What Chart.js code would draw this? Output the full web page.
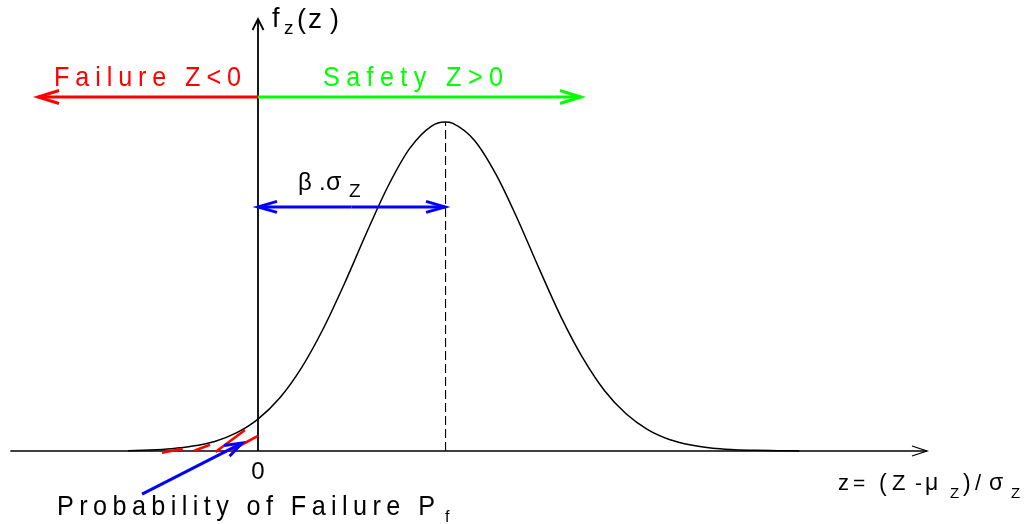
<!DOCTYPE html>
<html>
<head>
<meta charset="utf-8">
<script src="https://cdn.jsdelivr.net/npm/chart.js@4"></script>
<style>
  html, body { margin: 0; padding: 0; background: #fff; }
  #wrap { width: 1032px; height: 524px; position: relative; }
</style>
</head>
<body>
<div id="wrap"><canvas id="myChart"></canvas></div>
<script>
// z in units of sigma_Z, measured from the limit state Z = 0
const zPoints = [-1.5, -1.25, -1, -0.75, -0.5, -0.25, 0, 0.25, 0.5, 0.75, 1, 1.25, 1.5, 1.75, 2, 2.16,
                 2.25, 2.5, 2.75, 3, 3.25, 3.5, 3.75, 4, 4.25, 4.5, 4.75, 5, 5.25, 5.5, 5.75, 6, 6.25];
// f_z(z), scaled so the peak is 1
const density = [0.001, 0.003, 0.007, 0.015, 0.029, 0.055, 0.097, 0.161, 0.252, 0.370, 0.510, 0.661, 0.804, 0.919, 0.987, 1.000,
                 0.996, 0.944, 0.840, 0.703, 0.552, 0.407, 0.283, 0.184, 0.113, 0.065, 0.035, 0.018, 0.008, 0.004, 0.002, 0.001, 0.000];
// reliability index: distance from 0 to the mean
const beta = 2.16;
const zeroTick = ['0'];

const FONT = '"Liberation Sans", Arial, Helvetica, sans-serif';

// hatch strokes under the left tail (data units: x1, y1, x2, y2)
const hatch = [
  [-1.109, -0.005, -0.870, 0.007],
  [-0.736, 0.001, -0.554, 0.019],
  [-0.491, -0.003, -0.150, 0.064],
  [-0.323, 0.000, 0.000, 0.046]
];

function arrow(ctx, x1, y1, x2, y2, color, width, len, half) {
  ctx.save();
  ctx.strokeStyle = color;
  ctx.lineWidth = width;
  ctx.lineCap = 'butt';
  ctx.beginPath();
  ctx.moveTo(x1, y1);
  ctx.lineTo(x2, y2);
  ctx.stroke();
  const a = Math.atan2(y2 - y1, x2 - x1);
  const ux = Math.cos(a), uy = Math.sin(a);
  ctx.beginPath();
  ctx.moveTo(x2 - ux * len - uy * half, y2 - uy * len + ux * half);
  ctx.lineTo(x2, y2);
  ctx.lineTo(x2 - ux * len + uy * half, y2 - uy * len - ux * half);
  ctx.stroke();
  ctx.restore();
}

// letters spread evenly over a given width, slightly condensed
function spaced(ctx, str, x, y, span, size, color) {
  const sx = 0.9;
  ctx.save();
  ctx.font = size + 'px ' + FONT;
  ctx.fillStyle = color;
  ctx.textAlign = 'left';
  ctx.textBaseline = 'alphabetic';
  const chars = [...str];
  const w = chars.map(c => ctx.measureText(c).width * sx);
  const total = w.reduce((s, v) => s + v, 0);
  const gap = (span - total) / (chars.length - 1);
  let cx = x;
  chars.forEach((c, i) => {
    ctx.save();
    ctx.translate(cx, y);
    ctx.scale(sx, 1);
    ctx.fillText(c, 0, 0);
    ctx.restore();
    cx += w[i] + gap;
  });
  ctx.restore();
}

function text(ctx, str, x, y, size, color, align) {
  ctx.save();
  ctx.font = size + 'px ' + FONT;
  ctx.fillStyle = color || '#000';
  ctx.textAlign = align || 'left';
  ctx.textBaseline = 'alphabetic';
  ctx.fillText(str, x, y);
  ctx.restore();
}

const sketch = {
  id: 'sketch',
  beforeDatasetsDraw(chart) {
    const ctx = chart.ctx;
    const X = v => chart.scales.x.getPixelForValue(v);
    const Y = v => chart.scales.y.getPixelForValue(v);

    // axes
    arrow(ctx, X(-2.86), Y(0), X(7.725), Y(0), '#000', 1.3, 15, 5);
    arrow(ctx, X(0), Y(0), X(0), Y(1.313), '#000', 1.8, 11, 5.5);

    // mean line
    ctx.save();
    ctx.strokeStyle = '#000';
    ctx.lineWidth = 1.1;
    ctx.setLineDash([9, 4]);
    ctx.beginPath();
    ctx.moveTo(X(beta) + 0.5, Y(0));
    ctx.lineTo(X(beta) + 0.5, Y(1));
    ctx.stroke();
    ctx.restore();
  },
  afterDatasetsDraw(chart) {
    const ctx = chart.ctx;
    const X = v => chart.scales.x.getPixelForValue(v);
    const Y = v => chart.scales.y.getPixelForValue(v);

    // failure region hatch, over the tail
    ctx.save();
    ctx.strokeStyle = '#ff0000';
    ctx.lineWidth = 2.6;
    hatch.forEach(h => {
      ctx.beginPath();
      ctx.moveTo(X(h[0]), Y(h[1]));
      ctx.lineTo(X(h[2]), Y(h[3]));
      ctx.stroke();
    });
    ctx.restore();

    // failure / safety directions
    arrow(ctx, X(0), Y(1.076), X(-2.54), Y(1.076), '#ff0000', 3, 21, 6.5);
    arrow(ctx, X(0), Y(1.076), X(3.73), Y(1.076), '#00ff00', 3, 21, 6.5);
    spaced(ctx, 'Failure Z<0', 54, 86, 187, 28, '#ff0000');
    spaced(ctx, 'Safety Z>0', 323, 86, 180, 28, '#00ff00');

    // beta . sigma between 0 and the mean
    arrow(ctx, X(beta / 2), Y(0.742), X(0), Y(0.742), '#0000ff', 3, 19, 5.5);
    arrow(ctx, X(beta / 2), Y(0.742), X(beta), Y(0.742), '#0000ff', 3, 19, 5.5);
    text(ctx, 'β', 298, 190, 24);
    text(ctx, '.', 319, 190, 24);
    text(ctx, 'σ', 326, 190, 25);
    text(ctx, 'Z', 349, 197, 19);

    // pointer to the failure probability
    arrow(ctx, X(-1.339), Y(-0.131), X(-0.185), Y(0.024), '#0000ff', 3, 17, 6);

    // y axis title f_z(z)
    text(ctx, 'f', 272, 27, 27);
    text(ctx, 'z', 284, 34, 19);
    text(ctx, '(', 297, 28, 27);
    text(ctx, 'z', 308, 28, 28);
    text(ctx, ')', 330, 28, 27);

    // tick at the origin
    text(ctx, zeroTick[0], X(0), 479, 24, '#000', 'center');

    // x axis title z = (Z - mu_Z)/sigma_Z
    text(ctx, 'z', 838, 490, 22);
    text(ctx, '=', 853, 490, 21);
    text(ctx, '(', 879, 491, 23);
    text(ctx, 'Z', 892, 490, 22);
    text(ctx, '-', 915, 490, 21);
    text(ctx, 'μ', 925, 490, 23);
    text(ctx, 'Z', 950, 498, 15);
    text(ctx, ')', 963, 491, 23);
    text(ctx, '/', 975, 490, 22);
    text(ctx, 'σ', 989, 490, 23);
    text(ctx, 'Z', 1011, 498, 15);

    // probability of failure label
    spaced(ctx, 'Probability of Failure P', 57, 515, 378, 28, '#000');
    text(ctx, 'f', 445, 522, 16);
  }
};

const ctx = document.getElementById('myChart').getContext('2d');
new Chart(ctx, {
  type: 'line',
  data: {
    datasets: [{
      data: zPoints.map((z, i) => ({ x: z, y: density[i] })),
      borderColor: '#000',
      borderWidth: 1.5,
      pointRadius: 0,
      cubicInterpolationMode: 'monotone',
      fill: false
    }]
  },
  options: {
    responsive: true,
    maintainAspectRatio: false,
    animation: false,
    layout: { padding: 0 },
    plugins: { legend: { display: false }, tooltip: { enabled: false } },
    scales: {
      x: { type: 'linear', min: -2.9792, max: 8.9376, display: false },
      y: { type: 'linear', min: -0.2219, max: 1.3708, display: false }
    }
  },
  plugins: [sketch]
});
</script>
</body>
</html>
